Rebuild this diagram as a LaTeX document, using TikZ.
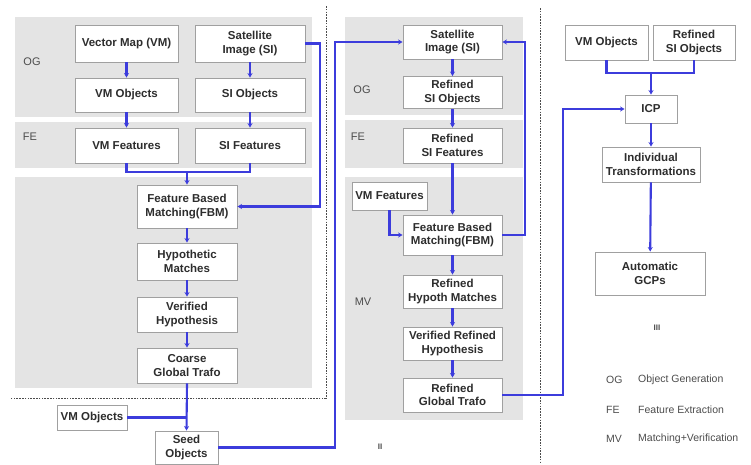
\documentclass[tikz,border=0pt]{standalone}
\usepackage{fontspec}
\setmainfont{Liberation Sans}
\usetikzlibrary{arrows.meta}
\definecolor{flow}{RGB}{60,60,220}
\definecolor{band}{RGB}{228,228,228}
\definecolor{boxline}{RGB}{160,160,160}
\definecolor{txt}{RGB}{45,45,45}
\tikzset{
  box/.style={draw=boxline, line width=0.9pt, fill=white, inner sep=0pt, align=center,
    text=txt, font=\fontsize{11.5}{13.5}\selectfont\bfseries},
  lbl/.style={text=txt!85, font=\fontsize{11}{12}\selectfont, inner sep=0pt},
  leg/.style={text=txt!85, font=\fontsize{10.5}{12}\selectfont, inner sep=0pt, anchor=west},
  conn/.style={draw=flow, line width=2.1pt},
  arr/.style={conn, -{Stealth[length=4.5pt,width=5pt]}},
  sep/.style={draw=black!70, line width=0.9pt, dash pattern=on 1.6pt off 1.2pt},
}
\begin{document}
\begin{tikzpicture}[x=1pt,y=-1pt]
\useasboundingbox (0,0) rectangle (751,464);
% bands panel I
\fill[band] (15,17) rectangle (312,117);
\fill[band] (15,122) rectangle (312,168);
\fill[band] (15,177) rectangle (312,388);
% bands panel II
\fill[band] (345,17) rectangle (523,115);
\fill[band] (345,120) rectangle (523,168);
\fill[band] (345,177) rectangle (523,420);
% separators
\draw[sep] (326,6) -- (326,398) -- (10,398);
\draw[sep] (540,8) -- (540,464);
% band labels
\node[lbl] (og1) at (32,62) {OG};
\node[lbl] (fe1) at (30,137) {FE};
\node[lbl] (og2) at (362,90) {OG};
\node[lbl] (fe2) at (358,137) {FE};
\node[lbl] (mv2) at (363,302) {MV};
\node[lbl, font=\fontsize{8}{9}\selectfont\bfseries] (p2) at (380,447) {II};
\node[lbl, font=\fontsize{8}{9}\selectfont\bfseries] (p3) at (657,328) {III};
% panel I boxes
\node[box, minimum width=103pt, minimum height=37pt] (vm) at (126.5,43.5) {Vector Map (VM)};
\node[box, minimum width=110pt, minimum height=37pt] (si) at (250,43.5) {Satellite\\Image (SI)};
\node[box, minimum width=103pt, minimum height=34pt] (vmo) at (126.5,95) {VM Objects};
\node[box, minimum width=110pt, minimum height=34pt] (sio) at (250,95) {SI Objects};
\node[box, minimum width=103pt, minimum height=35pt] (vmf) at (126.5,145.5) {VM Features};
\node[box, minimum width=110pt, minimum height=35pt] (sif) at (250,145.5) {SI Features};
\node[box, minimum width=100pt, minimum height=43pt] (fbm) at (187,206.5) {Feature Based\\Matching(FBM)};
\node[box, minimum width=100pt, minimum height=37pt] (hyp) at (187,261.5) {Hypothetic\\Matches};
\node[box, minimum width=100pt, minimum height=35pt] (ver) at (187,314.5) {Verified\\Hypothesis};
\node[box, minimum width=100pt, minimum height=35pt] (coarse) at (187,365.5) {Coarse\\Global Trafo};
\node[box, minimum width=70pt, minimum height=25pt] (vmo2) at (92,417.5) {VM Objects};
\node[box, minimum width=63pt, minimum height=33pt] (seed) at (186.5,447.5) {Seed\\Objects};
% panel II boxes
\node[box, minimum width=99pt, minimum height=34pt] (si2) at (452.5,42) {Satellite\\Image (SI)};
\node[box, minimum width=99pt, minimum height=32pt] (rsio) at (452.5,92.5) {Refined\\SI Objects};
\node[box, minimum width=99pt, minimum height=35pt] (rsif) at (452.5,145.5) {Refined\\SI Features};
\node[box, minimum width=75pt, minimum height=28pt] (vmf2) at (389.5,196) {VM Features};
\node[box, minimum width=99pt, minimum height=40pt] (fbm2) at (452.5,235) {Feature Based\\Matching(FBM)};
\node[box, minimum width=99pt, minimum height=33pt] (rhm) at (452.5,291.5) {Refined\\Hypoth Matches};
\node[box, minimum width=99pt, minimum height=33pt] (vrh) at (452.5,343.5) {Verified Refined\\Hypothesis};
\node[box, minimum width=99pt, minimum height=34pt] (rgt) at (452.5,395) {Refined\\Global Trafo};
% panel III boxes
\node[box, minimum width=83pt, minimum height=35pt] (vmo3) at (606.5,42.5) {VM Objects};
\node[box, minimum width=82pt, minimum height=35pt] (rsio3) at (694,42.5) {Refined\\SI Objects};
\node[box, minimum width=52pt, minimum height=28pt] (icp) at (651,109) {ICP};
\node[box, minimum width=98pt, minimum height=35pt] (ind) at (651,164.5) {Individual\\Transformations};
\node[box, minimum width=110pt, minimum height=43pt] (gcp) at (650,273.5) {Automatic\\GCPs};
% legend
\node[leg] (lo) at (606,380) {OG};
\node[leg] (lf) at (606,410) {FE};
\node[leg] (lm) at (606,439) {MV};
\node[leg] (lo2) at (638,380) {Object Generation};
\node[leg] (lf2) at (638,410) {Feature Extraction};
\node[leg] (lm2) at (638,439) {Matching+Verification};
% coordinates
\coordinate (j1) at (187,172);
\coordinate (j2) at (187,417.5);
\coordinate (j3) at (651,73);
% panel I connectors
\draw[arr] (vm) -- (vmo);
\draw[arr] (si) -- (sio);
\draw[arr] (vmo) -- (vmf);
\draw[arr] (sio) -- (sif);
\draw[conn] (vmf.south) |- (j1);
\draw[conn] (sif.south) |- (j1);
\draw[arr] (j1) -- (fbm.north);
\draw[arr] (si.east) -- (320,43.5) -- (320,206.5) -- (fbm.east);
\draw[arr] (fbm) -- (hyp);
\draw[arr] (hyp) -- (ver);
\draw[arr] (ver) -- (coarse);
\draw[arr] (coarse.south) -- (seed.north);
\draw[conn] (vmo2.east) -- (j2);
\draw[arr] (seed.east) -- (335,447.5) -- (335,42) -- (si2.west);
% panel II connectors
\draw[arr] (si2) -- (rsio);
\draw[arr] (rsio) -- (rsif);
\draw[arr] (rsif) -- (fbm2);
\draw[arr] (vmf2.south) |- (fbm2.west);
\draw[arr] (fbm2.east) -- (525,235) -- (525,42) -- (si2.east);
\draw[arr] (fbm2) -- (rhm);
\draw[arr] (rhm) -- (vrh);
\draw[arr] (vrh) -- (rgt);
\draw[arr] (rgt.east) -- (563,395) -- (563,109) -- (icp.west);
% panel III connectors
\draw[conn] (vmo3.south) |- (j3);
\draw[conn] (rsio3.south) |- (j3);
\draw[arr] (j3) -- (icp.north);
\draw[arr] (icp) -- (ind);
\draw[arr] (ind) -- (gcp);
\end{tikzpicture}
\end{document}
